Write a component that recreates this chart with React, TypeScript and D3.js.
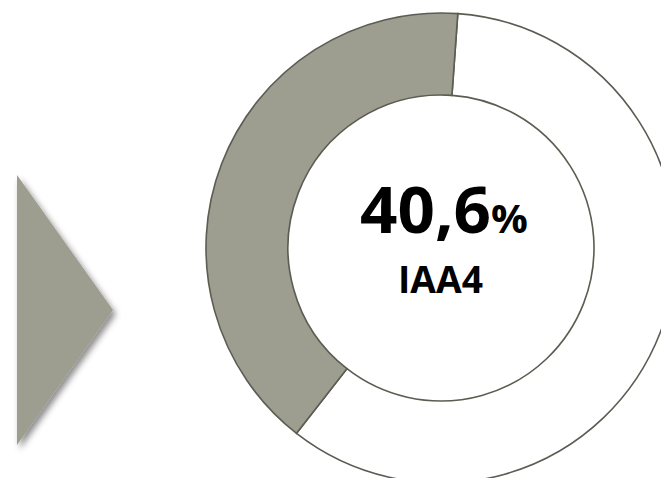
import * as d3 from 'd3';
import { useEffect, useRef } from 'react';

const segments = ['rest', 'IAA4'];
const values = [59.4, 40.6];
const segmentColors = ['#ffffff', '#9d9d90'];
const mainLabel = '40,6';
const subLabel = 'IAA4';

const width = 661;
const height = 478;

const App: React.FC = () => {
  const ref = useRef<SVGSVGElement | null>(null);

  useEffect(() => {
    if (!ref.current) return;
    const svg = d3.select(ref.current);
    svg.selectAll('*').remove();

    const cx = 441;
    const cy = 248;
    const outer = 235;
    const inner = 153;

    // drop shadow for the arrow
    const defs = svg.append('defs');
    const filter = defs
      .append('filter')
      .attr('id', 'shadow')
      .attr('x', '-30%')
      .attr('y', '-30%')
      .attr('width', '160%')
      .attr('height', '160%');
    filter
      .append('feDropShadow')
      .attr('dx', 3)
      .attr('dy', 4)
      .attr('stdDeviation', 3)
      .attr('flood-color', '#000')
      .attr('flood-opacity', 0.45);

    // arrow on the left
    const ax = d3.scaleLinear().domain([0, 1]).range([17, 113]);
    const ay = d3.scaleLinear().domain([0, 1]).range([175, 445]);
    const arrowPts: [number, number][] = [
      [0, 0],
      [1, 0.5],
      [0, 1],
    ];
    svg
      .append('path')
      .attr('d', d3.line().x((d) => ax(d[0])).y((d) => ay(d[1]))(arrowPts) + 'Z')
      .attr('fill', '#9d9d90')
      .attr('filter', 'url(#shadow)');

    const color = d3.scaleOrdinal<string>().domain(segments).range(segmentColors);

    const start = (4.1 * Math.PI) / 180;
    const pie = d3
      .pie<number>()
      .sort(null)
      .startAngle(start)
      .endAngle(start + 2 * Math.PI);
    const arc = d3.arc<d3.PieArcDatum<number>>().innerRadius(inner).outerRadius(outer);

    svg
      .append('g')
      .attr('transform', `translate(${cx},${cy})`)
      .selectAll('path')
      .data(pie(values))
      .join('path')
      .attr('d', arc)
      .attr('fill', (_, i) => color(segments[i]))
      .attr('stroke', '#5b5d52')
      .attr('stroke-width', 1.6);

    const font = '"Open Sans", Arial, sans-serif';
    const label = svg
      .append('text')
      .attr('x', 360)
      .attr('y', 233)
      .attr('textLength', 168)
      .attr('lengthAdjust', 'spacingAndGlyphs')
      .attr('font-family', font)
      .attr('font-weight', 700)
      .attr('fill', '#000');
    label.append('tspan').attr('font-size', 64).text(mainLabel);
    label.append('tspan').attr('font-size', 40).text('%');

    svg
      .append('text')
      .attr('x', 398)
      .attr('y', 293)
      .attr('textLength', 85)
      .attr('lengthAdjust', 'spacingAndGlyphs')
      .attr('font-family', font)
      .attr('font-weight', 700)
      .attr('font-size', 38)
      .attr('fill', '#000')
      .text(subLabel);
  }, []);

  return (
    <svg
      ref={ref}
      width={width}
      height={height}
      style={{ position: 'absolute', left: 0, top: 0, background: '#fff' }}
    />
  );
};

export default App;
